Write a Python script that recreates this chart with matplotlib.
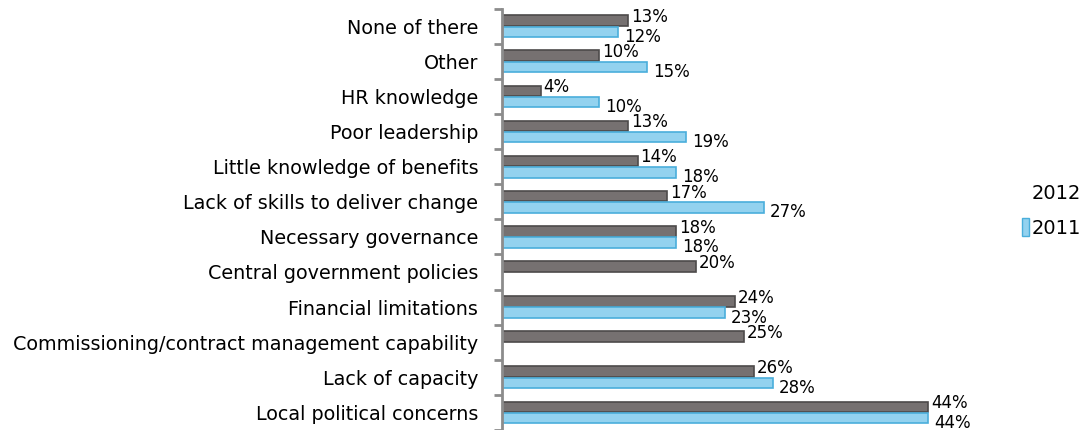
import matplotlib.pyplot as plt
import numpy as np

# Categories (top to bottom)
categories = ['None of there', 'Other', 'HR knowledge', 'Poor leadership',
              'Little knowledge of benefits', 'Lack of skills to deliver change',
              'Necessary governance', 'Central government policies',
              'Financial limitations', 'Commissioning/contract management capability',
              'Lack of capacity', 'Local political concerns']
vals_2012 = [13, 10, 4, 13, 14, 17, 18, 20, 24, 25, 26, 44]
vals_2011 = [12, 15, 10, 19, 18, 27, 18, None, 23, None, 28, 44]

fig = plt.figure(figsize=(10.83, 4.30), dpi=100)
ax = fig.add_axes([0.4635, 0.0, 0.4475, 0.98])

n = len(categories)
y = np.arange(n)
h = 0.3

for i, v in enumerate(vals_2012):
    ax.barh(i - 0.16, v, height=h, color='#767171', edgecolor='#4d4a4a', linewidth=1.2)
    ax.text(v + 0.3, i - 0.26, f'{v}%', fontsize=12, va='center', ha='left')
for i, v in enumerate(vals_2011):
    if v is None:
        continue
    ax.barh(i + 0.16, v, height=h, color='#93d2ef', edgecolor='#4aaedb', linewidth=1.2)
    ax.text(v + 0.6, i + 0.3, f'{v}%', fontsize=12, va='center', ha='left')

ax.set_xlim(0, 50)
ax.set_ylim(n - 0.5, -0.5)
ax.set_yticks(y)
ax.set_yticklabels(categories, fontsize=13.8)
ax.set_yticks(np.arange(n + 1) - 0.5, minor=True)
ax.tick_params(axis='y', which='major', length=0, pad=17)
ax.tick_params(axis='y', which='minor', length=6, width=2, color='#8c8c8c')
ax.set_xticks([])
for s in ['top', 'right', 'bottom']:
    ax.spines[s].set_visible(False)
ax.spines['left'].set_color('#8c8c8c')
ax.spines['left'].set_linewidth(2)

h12 = plt.Rectangle((0, 0), 1, 1, facecolor='none', edgecolor='none')
h11 = plt.Rectangle((0, 0), 1, 1, facecolor='#93d2ef', edgecolor='#4aaedb')
fig.legend([h12, h11], ['2012', '2011'], loc='center left', bbox_to_anchor=(0.944, 0.51),
           frameon=False, fontsize=14, handlelength=0.35, handleheight=1.0,
           handletextpad=0.15, labelspacing=0.8, borderpad=0, borderaxespad=0)

fig.savefig('out.png', dpi=100)
